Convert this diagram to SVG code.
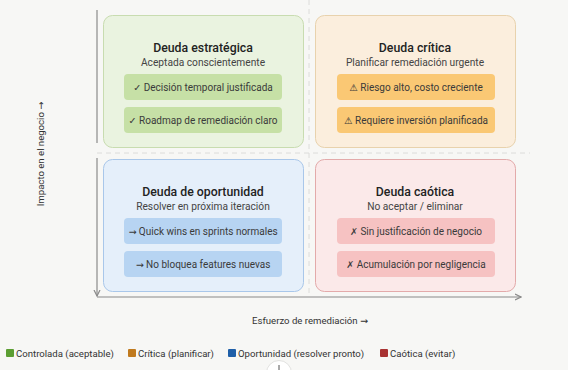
<svg xmlns="http://www.w3.org/2000/svg" width="568" height="370" viewBox="0 0 568 370">
<defs>
<style>
text{font-family:Roboto,"Liberation Sans","DejaVu Sans",sans-serif;fill:#333;}
.t{font-size:12.3px;font-weight:500;text-anchor:middle;fill:#222;}
.s{font-size:10.2px;text-anchor:middle;fill:#444;}
.p{font-size:10px;text-anchor:middle;fill:#3a3a3a;}
.sym{font-family:"DejaVu Sans",sans-serif;font-size:9.5px;}
.ax{stroke:#8a8a8a;stroke-width:1.2;fill:none;}
.dash{stroke:#dcdcda;stroke-width:1;stroke-dasharray:5 4;fill:none;}
.lg{font-size:9.6px;fill:#333;}
.al{font-size:9.6px;fill:#333;}
</style>
<marker id="ah" viewBox="0 0 6 6" refX="5" refY="3" markerWidth="6" markerHeight="6" orient="auto"><path d="M0,0.5 L5,3 L0,5.5" fill="none" stroke="#8a8a8a" stroke-width="1"/></marker>
</defs>
<rect width="568" height="370" fill="#f7f7f5"/>
<g id="connectors">
<line class="dash" x1="97" y1="153" x2="530" y2="153"/>
<line class="dash" x1="309" y1="0" x2="309" y2="297"/>
<line class="ax" x1="97" y1="10" x2="97" y2="143"/>
<line class="ax" x1="97" y1="158" x2="97" y2="296" marker-end="url(#ah)"/>
<line class="ax" x1="97" y1="297" x2="521" y2="297" marker-end="url(#ah)"/>
</g>
<g id="q-estrategica">
<rect x="103.5" y="15.5" width="200" height="132" rx="9" fill="#eaf3e0" stroke="#c8dcb0"/>
<text class="t" x="203" y="52">Deuda estratégica</text>
<text class="s" x="203" y="66">Aceptada conscientemente</text>
<rect x="124" y="74" width="158" height="26" rx="4" fill="#c6e0a6"/>
<text class="p" x="203" y="91"><tspan class="sym">✓</tspan> Decisión temporal justificada</text>
<rect x="124" y="107" width="158" height="26" rx="4" fill="#c6e0a6"/>
<text class="p" x="203" y="124"><tspan class="sym">✓</tspan> Roadmap de remediación claro</text>
</g>
<g id="q-critica">
<rect x="315.5" y="15.5" width="200" height="132" rx="9" fill="#fbeedd" stroke="#e8d2ad"/>
<text class="t" x="415" y="52">Deuda crítica</text>
<text class="s" x="415" y="66">Planificar remediación urgente</text>
<rect x="337" y="74" width="158" height="26" rx="4" fill="#fac874"/>
<text class="p" x="416" y="91"><tspan class="sym">⚠</tspan> Riesgo alto, costo creciente</text>
<rect x="337" y="107" width="158" height="26" rx="4" fill="#fac874"/>
<text class="p" x="416" y="124"><tspan class="sym">⚠</tspan> Requiere inversión planificada</text>
</g>
<g id="q-oportunidad">
<rect x="103.5" y="159.5" width="200" height="132" rx="9" fill="#e5effa" stroke="#a9c7ea"/>
<text class="t" x="203" y="196">Deuda de oportunidad</text>
<text class="s" x="203" y="210">Resolver en próxima iteración</text>
<rect x="124" y="218" width="158" height="26" rx="4" fill="#b7d4f2"/>
<text class="p" x="203" y="235"><tspan class="sym">→</tspan> Quick wins en sprints normales</text>
<rect x="124" y="251" width="158" height="26" rx="4" fill="#b7d4f2"/>
<text class="p" x="203" y="268"><tspan class="sym">→</tspan> No bloquea features nuevas</text>
</g>
<g id="q-caotica">
<rect x="315.5" y="159.5" width="200" height="132" rx="9" fill="#fbe9e9" stroke="#e3aaaa"/>
<text class="t" x="415" y="196">Deuda caótica</text>
<text class="s" x="415" y="210">No aceptar / eliminar</text>
<rect x="337" y="218" width="158" height="26" rx="4" fill="#f6c2c2"/>
<text class="p" x="416" y="235"><tspan class="sym">✗</tspan> Sin justificación de negocio</text>
<rect x="337" y="251" width="158" height="26" rx="4" fill="#f6c2c2"/>
<text class="p" x="416" y="268"><tspan class="sym">✗</tspan> Acumulación por negligencia</text>
</g>
<g id="axis-labels">
<text class="al" x="310" y="324" text-anchor="middle">Esfuerzo de remediación <tspan class="sym">→</tspan></text>
<text class="al" transform="translate(44,154) rotate(-90)" text-anchor="middle">Impacto en el negocio <tspan class="sym">→</tspan></text>
</g>
<g id="legend">
<rect x="6" y="349" width="8" height="8" rx="1" fill="#5c9e32"/>
<text class="lg" x="16" y="357">Controlada (aceptable)</text>
<rect x="128" y="349" width="8" height="8" rx="1" fill="#c07a1e"/>
<text class="lg" x="138" y="357">Crítica (planificar)</text>
<rect x="228" y="349" width="8" height="8" rx="1" fill="#1f5fa8"/>
<text class="lg" x="238" y="357">Oportunidad (resolver pronto)</text>
<rect x="380" y="349" width="8" height="8" rx="1" fill="#a83232"/>
<text class="lg" x="390" y="357">Caótica (evitar)</text>
</g>
<g id="zoom-btn">
<circle cx="279" cy="373" r="12.5" fill="#ffffff" stroke="#e2e2e0"/>
<line x1="279" y1="365" x2="279" y2="370" stroke="#555" stroke-width="1"/>
</g>
</svg>
